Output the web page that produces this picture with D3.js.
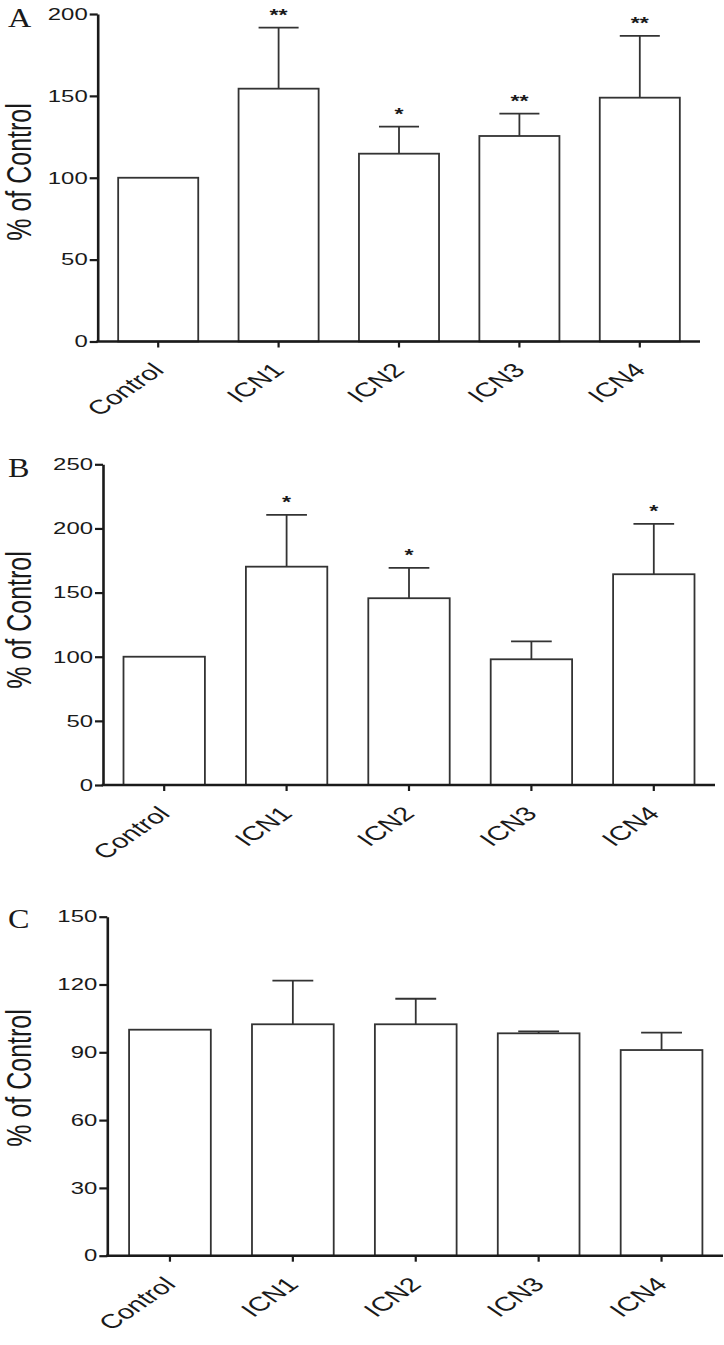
<!DOCTYPE html>
<html lang="en">
<head>
<meta charset="UTF-8">
<title>% of Control - panels A, B, C</title>
<script src="https://cdnjs.cloudflare.com/ajax/libs/d3/7.8.5/d3.min.js"></script>
<style>
  body { margin: 0; background: #fff; }
  svg { display: block; }
  text { font-family: "Liberation Sans", Arial, sans-serif; fill: #1a1a1a; }
  .panel-label { font-family: "Liberation Serif", "Times New Roman", serif; }
</style>
</head>
<body>
<svg id="chart" width="724" height="1345"></svg>
<script>
// categories shared by every panel
const categories = ["Control", "ICN1", "ICN2", "ICN3", "ICN4"];

// panel A
const meanA = [100, 154.4, 114.7, 125.5, 148.9];
const semA  = [0, 37.3, 16.5, 13.7, 37.7];
const sigA  = ["", "**", "*", "**", "**"];
const ticksA = [0, 50, 100, 150, 200];

// panel B
const meanB = [100, 170.2, 145.6, 98.0, 164.3];
const semB  = [0, 40.3, 23.6, 14.0, 39.2];
const sigB  = ["", "*", "*", "", "*"];
const ticksB = [0, 50, 100, 150, 200, 250];

// panel C
const meanC = [100, 102.4, 102.4, 98.4, 91.0];
const semC  = [0, 19.3, 11.3, 0.9, 7.7];
const sigC  = ["", "", "", "", ""];
const ticksC = [0, 30, 60, 90, 120, 150];

const svg = d3.select("#chart");
const SX = 1.45; // the original figure is stretched horizontally

// where each panel sits on the page
const layout = [
  { label: "A", mean: meanA, sem: semA, sig: sigA, ticks: ticksA,
    axisX: 97.7, xStart: 98, xEnd: 700, yTop: 14, yBottom: 341.5, titleY: 172, labelY: 27 },
  { label: "B", mean: meanB, sem: semB, sig: sigB, ticks: ticksB,
    axisX: 103, xStart: 103, xEnd: 715, yTop: 464.3, yBottom: 785, titleY: 620, labelY: 476.5 },
  { label: "C", mean: meanC, sem: semC, sig: sigC, ticks: ticksC,
    axisX: 107.3, xStart: 108.5, xEnd: 723, yTop: 916.7, yBottom: 1255.7, titleY: 1078, labelY: 928 }
];

function drawPanel(p) {
  const g = svg.append("g");
  const yMax = d3.max(p.ticks);

  const x = d3.scaleBand()
    .domain(categories)
    .range([p.xStart, p.xEnd])
    .paddingInner(0.335)
    .paddingOuter(0.1675);

  const y = d3.scaleLinear()
    .domain([0, yMax])
    .range([p.yBottom, p.yTop]);

  const rows = categories.map((c, i) => ({ cat: c, mean: p.mean[i], sem: p.sem[i], sig: p.sig[i] }));

  // bars
  g.selectAll("rect.bar")
    .data(rows)
    .enter().append("rect")
    .attr("class", "bar")
    .attr("x", d => x(d.cat))
    .attr("y", d => y(d.mean))
    .attr("width", x.bandwidth())
    .attr("height", d => y(0) - y(d.mean))
    .attr("fill", "#fff")
    .attr("stroke", "#333")
    .attr("stroke-width", 1.8);

  // upper error bars
  const errs = rows.filter(d => d.sem > 0);
  const cx = d => x(d.cat) + x.bandwidth() / 2;
  const capHalf = x.bandwidth() / 4;

  g.selectAll("line.err")
    .data(errs)
    .enter().append("line")
    .attr("x1", cx).attr("x2", cx)
    .attr("y1", d => y(d.mean))
    .attr("y2", d => y(d.mean + d.sem))
    .attr("stroke", "#333")
    .attr("stroke-width", 1.8);

  g.selectAll("line.cap")
    .data(errs)
    .enter().append("line")
    .attr("x1", d => cx(d) - capHalf)
    .attr("x2", d => cx(d) + capHalf)
    .attr("y1", d => y(d.mean + d.sem))
    .attr("y2", d => y(d.mean + d.sem))
    .attr("stroke", "#333")
    .attr("stroke-width", 1.8);

  // significance stars
  g.selectAll("text.sig")
    .data(rows.filter(d => d.sig))
    .enter().append("text")
    .attr("text-anchor", "middle")
    .attr("font-size", 16)
    .attr("font-weight", "bold")
    .attr("transform", d => `translate(${cx(d)},${y(d.mean + d.sem) - 7}) scale(${SX},1)`)
    .text(d => d.sig);

  // y axis
  const yAxis = g.append("g")
    .attr("transform", `translate(${p.axisX},0)`)
    .call(d3.axisLeft(y).tickValues(p.ticks).tickSize(8).tickSizeOuter(0).tickPadding(2));
  yAxis.select(".domain").attr("stroke", "#1a1a1a").attr("stroke-width", 2.6);
  yAxis.selectAll(".tick line").attr("stroke", "#1a1a1a").attr("stroke-width", 2.2);
  yAxis.selectAll(".tick text")
    .attr("x", null)
    .attr("font-size", 16.5)
    .attr("fill", "#1a1a1a")
    .attr("transform", `translate(-10,0) scale(${SX},1)`);

  // x axis
  g.append("line")
    .attr("x1", p.axisX - 1.3).attr("x2", p.xEnd)
    .attr("y1", y(0)).attr("y2", y(0))
    .attr("stroke", "#1a1a1a")
    .attr("stroke-width", 2.6);

  const xAxis = g.append("g")
    .attr("transform", `translate(0,${y(0)})`)
    .call(d3.axisBottom(x).tickSize(6).tickSizeOuter(0));
  xAxis.select(".domain").remove();
  xAxis.selectAll(".tick line").attr("stroke", "#1a1a1a").attr("stroke-width", 2.2);
  xAxis.selectAll(".tick text")
    .attr("y", null).attr("dy", null)
    .attr("font-size", 20)
    .attr("fill", "#1a1a1a")
    .attr("text-anchor", "end")
    .attr("transform", `translate(7,30) scale(${SX},1) rotate(-45)`);

  // y axis title
  g.append("text")
    .attr("text-anchor", "middle")
    .attr("font-size", 25)
    .attr("transform", `translate(31,${p.titleY}) scale(1.38,1) rotate(-90)`)
    .text("% of Control");

  // panel letter
  g.append("text")
    .attr("class", "panel-label")
    .attr("font-size", 28)
    .attr("transform", `translate(8,${p.labelY}) scale(1.15,1)`)
    .text(p.label);
}

layout.forEach(drawPanel);
</script>
</body>
</html>
